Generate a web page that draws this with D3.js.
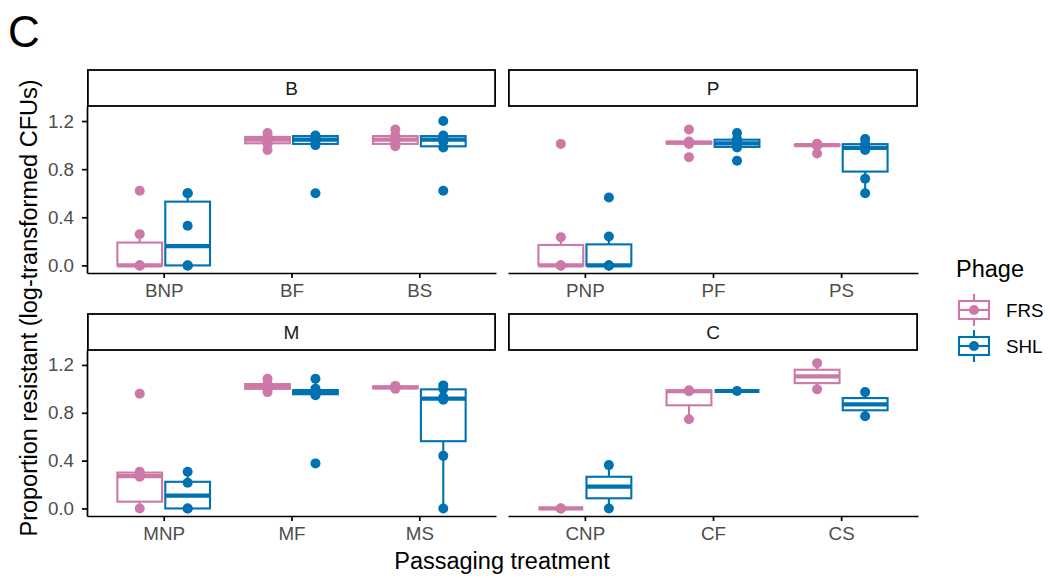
<!DOCTYPE html>
<html>
<head>
<meta charset="utf-8">
<script src="https://cdn.jsdelivr.net/npm/d3@7"></script>
<style>
  body { margin: 0; background: #fff; }
  svg { font-family: "Liberation Sans", Arial, sans-serif; }
</style>
</head>
<body>
<svg id="chart" width="1050" height="578"></svg>
<script>
// facets and the treatments inside each one
var facets = ["B", "P", "M", "C"];
var treatments = [
    ["BNP", "BF", "BS"],
    ["PNP", "PF", "PS"],
    ["MNP", "MF", "MS"],
    ["CNP", "CF", "CS"]
];
var phages = ["FRS", "SHL"];
var phageColors = ["#CC79A7", "#0072B2"];
var yTicks = [0, 0.4, 0.8, 1.2];

// box stats per treatment, in facet order: [lower whisker, Q1, median, Q3, upper whisker]
var boxFRS = [
    [0, 0, 0, 0.19, 0.26], [0.96, 1.015, 1.045, 1.068, 1.10], [0.99, 1.01, 1.045, 1.075, 1.13],
    [0, 0, 0, 0.17, 0.235], [1.01, 1.012, 1.02, 1.028, 1.03], [0.995, 0.996, 1.0, 1.004, 1.005],
    [0, 0.057, 0.271, 0.30, 0.307], [0.993, 1.0, 1.025, 1.04, 1.085], [1.0, 1.005, 1.012, 1.02, 1.025],
    [0, 0, 0, 0, 0], [0.746, 0.8625, 0.98, 0.9875, 0.9875], [0.996, 1.048, 1.104, 1.16, 1.215]
];
var boxSHL = [
    [0, 0, 0.16, 0.53, 0.60], [1.0, 1.01, 1.045, 1.075, 1.08], [0.98, 0.99, 1.045, 1.075, 1.08],
    [0, 0, 0, 0.175, 0.24], [0.98, 0.985, 1.015, 1.045, 1.10], [0.60, 0.78, 0.977, 1.008, 1.05],
    [0, 0, 0.107, 0.223, 0.307], [0.946, 0.955, 0.975, 0.99, 1.085], [0, 0.5625, 0.918, 0.996, 1.029],
    [0, 0.085, 0.182, 0.265, 0.3625], [0.982, 0.982, 0.982, 0.982, 0.982], [0.771, 0.821, 0.871, 0.923, 0.973]
];

// individual replicate values
var pointsFRS = [
    [0, 0, 0, 0, 0.26, 0.62], [0.96, 1.01, 1.03, 1.06, 1.07, 1.10], [0.99, 1.01, 1.03, 1.06, 1.08, 1.13],
    [0, 0, 0, 0, 0.235, 1.01], [0.90, 1.01, 1.02, 1.02, 1.03, 1.13], [0.93, 0.995, 1.0, 1.0, 1.005, 1.012],
    [0, 0.265, 0.275, 0.307, 0.96], [0.973, 1.0, 1.02, 1.03, 1.04, 1.085], [1.0, 1.01, 1.015, 1.02, 1.025],
    [0, 0, 0], [0.746, 0.98, 0.9875], [0.996, 1.215]
];
var pointsSHL = [
    [0, 0, 0, 0.33, 0.60, 0.60], [0.60, 1.0, 1.03, 1.05, 1.07, 1.08], [0.62, 0.98, 1.03, 1.06, 1.08, 1.20],
    [0, 0, 0, 0, 0.24, 0.565], [0.87, 0.98, 1.0, 1.03, 1.05, 1.10], [0.60, 0.72, 0.96, 0.99, 1.01, 1.05],
    [0, 0, 0.215, 0.307], [0.377, 0.946, 0.96, 0.98, 1.002, 1.085], [0, 0.44, 0.91, 0.93, 1.0, 1.029],
    [0, 0.3625], [0.982], [0.771, 0.973]
];

var boxes = [boxFRS, boxSHL];
var points = [pointsFRS, pointsSHL];

var svg = d3.select("#chart");
var TEXT_GREY = "#4D4D4D";
var BOX_W = 0.35;      // box width in category units
var DODGE = 0.1875;    // half distance between the two phages

// panel rectangles (plot area, strip above)
var panels = [
    { x0: 87, x1: 496, y0: 106, y1: 273, left: true },
    { x0: 508, x1: 918, y0: 106, y1: 273, left: false },
    { x0: 87, x1: 496, y0: 350, y1: 516, left: true },
    { x0: 508, x1: 918, y0: 350, y1: 516, left: false }
];

panels.forEach(function(p, fi) {
    var g = svg.append("g");
    var x = d3.scaleLinear().domain([0.4, 3.6]).range([p.x0, p.x1]);
    var y = d3.scaleLinear().domain([-0.063, 1.325]).range([p.y1, p.y0]);
    var bw = x(BOX_W) - x(0);

    // strip
    g.append("rect")
        .attr("x", p.x0 + 0.9).attr("y", p.y0 - 36)
        .attr("width", p.x1 - p.x0 - 1.8).attr("height", 36)
        .attr("fill", "#fff").attr("stroke", "#000").attr("stroke-width", 1.8);
    g.append("text")
        .attr("x", (p.x0 + p.x1) / 2).attr("y", p.y0 - 18)
        .attr("dy", "0.36em").attr("text-anchor", "middle")
        .attr("font-size", 19).attr("fill", "#1A1A1A")
        .text(facets[fi]);

    // boxes
    treatments[fi].forEach(function(t, ti) {
        var idx = fi * 3 + ti;
        phages.forEach(function(ph, pi) {
            var cx = x(ti + 1 + (pi === 0 ? -DODGE : DODGE));
            var s = boxes[pi][idx];
            var col = phageColors[pi];
            var bg = g.append("g").attr("stroke", col).attr("fill", "none").attr("stroke-width", 2.1);
            bg.append("line").attr("x1", cx).attr("x2", cx).attr("y1", y(s[3])).attr("y2", y(s[4]));
            bg.append("line").attr("x1", cx).attr("x2", cx).attr("y1", y(s[1])).attr("y2", y(s[0]));
            bg.append("rect")
                .attr("x", cx - bw / 2).attr("y", y(s[3]))
                .attr("width", bw).attr("height", Math.max(0, y(s[1]) - y(s[3])))
                .attr("fill", "#fff");
            bg.append("line")
                .attr("x1", cx - bw / 2).attr("x2", cx + bw / 2)
                .attr("y1", y(s[2])).attr("y2", y(s[2]))
                .attr("stroke-width", 4.2);

            g.selectAll(null)
                .data(points[pi][idx])
                .enter().append("circle")
                .attr("cx", cx).attr("cy", function(d) { return y(d); })
                .attr("r", 5).attr("fill", col);
        });
    });

    // x axis
    var xa = g.append("g")
        .attr("transform", "translate(0," + p.y1 + ")")
        .call(d3.axisBottom(x).tickValues([1, 2, 3])
            .tickFormat(function(d) { return treatments[fi][d - 1]; })
            .tickSize(5).tickPadding(6).tickSizeOuter(0));
    xa.select(".domain").attr("stroke-width", 1.7);
    xa.selectAll(".tick line").attr("stroke-width", 1.7);
    xa.selectAll("text").attr("font-size", 18.8).attr("fill", TEXT_GREY).attr("font-family", null);

    // y axis only on the left column
    if (p.left) {
        var ya = g.append("g")
            .attr("transform", "translate(" + p.x0 + ",0)")
            .call(d3.axisLeft(y).tickValues(yTicks).tickFormat(d3.format(".1f"))
                .tickSize(5).tickPadding(8).tickSizeOuter(0));
        ya.select(".domain").attr("stroke-width", 1.7);
        ya.selectAll(".tick line").attr("stroke-width", 1.7);
        ya.selectAll("text").attr("font-size", 18.8).attr("fill", TEXT_GREY).attr("font-family", null);
    }
});

// axis titles
svg.append("text")
    .attr("x", 502).attr("y", 569)
    .attr("text-anchor", "middle").attr("font-size", 23.5)
    .text("Passaging treatment");
svg.append("text")
    .attr("transform", "translate(37,308) rotate(-90)")
    .attr("text-anchor", "middle").attr("font-size", 23.5)
    .text("Proportion resistant (log-transformed CFUs)");

// panel tag
svg.append("text")
    .attr("x", 8).attr("y", 47)
    .attr("font-size", 44)
    .text("C");

// legend
var lg = svg.append("g");
lg.append("text").attr("x", 956).attr("y", 277).attr("font-size", 23.5).text("Phage");
phages.forEach(function(ph, i) {
    var cy = 310 + i * 36;
    var col = phageColors[i];
    var k = lg.append("g").attr("stroke", col).attr("stroke-width", 2.1).attr("fill", "none");
    k.append("line").attr("x1", 974).attr("x2", 974).attr("y1", cy - 16).attr("y2", cy + 16);
    k.append("rect").attr("x", 959).attr("y", cy - 9).attr("width", 30).attr("height", 18).attr("fill", "#fff");
    k.append("line").attr("x1", 959).attr("x2", 989).attr("y1", cy).attr("y2", cy);
    lg.append("circle").attr("cx", 974).attr("cy", cy).attr("r", 5).attr("fill", col);
    lg.append("text").attr("x", 1006).attr("y", cy + 7).attr("font-size", 18.8).attr("fill", "#000").text(ph);
});
</script>
</body>
</html>
